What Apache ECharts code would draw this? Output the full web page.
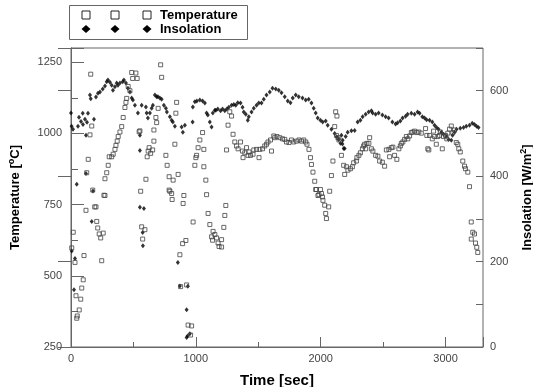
<!DOCTYPE html>
<html>
<head>
<meta charset="utf-8">
<script src="https://cdn.jsdelivr.net/npm/echarts@6/dist/echarts.min.js"></script>
<style>
  html, body { margin: 0; padding: 0; background: #fff; }
  #chart { width: 533px; height: 387px; }
</style>
</head>
<body>
<div id="chart"></div>
<script>
// Temperature readings (open squares, left axis)
const tempTime = [
  158, 718, 726, 486, 520, 494, 530, 458, 472, 446, 440, 432, 418, 406, 392, 378, 370, 360, 352, 338,
  326, 306, 298, 286, 272, 264, 166, 152, 138, 126, 174, 546, 552, 664, 686, 698, 846, 840, 680, 626,
  654, 618, 638, 610, 664, 760, 770, 832, 858, 818, 786, 600, 558, 786, 904, 1086, 1054, 1032, 1018, 1006,
  1000, 992, 1064, 1064, 1080, 272, 792, 806, 810, 898, 120, 190, 200, 206, 214, 226, 258, 238, 566, 592,
  574, 18, 6, 32, 104, 246, 98, 86, 40, 78, 66, 50, 46, 872, 920, 894, 978, 1098, 1112, 1138,
  1152, 1166, 1126, 1178, 878, 926, 938, 966, 958, 1240, 1232, 1224, 1186, 1206, 1134, 1206,
  1966, 1998, 1978, 2006, 2014, 2018, 2032, 2064, 2040, 2046, 2072,
  1272, 1286, 1258, 1298, 1246, 1312, 1326, 1358, 1338, 1374, 1406, 1392, 1378, 1418, 1438, 1458, 1426, 1464, 1486, 1506,
  1512, 1534, 1552, 1566, 1578, 1598, 1606, 1624, 1632, 1650, 1672, 1694, 1712, 1726, 1746, 1766, 1784, 1806, 1826, 1846,
  1864, 1880, 1890, 1906, 1918, 1926, 1938, 1952, 1960, 1986, 2086, 2098, 2112, 2120, 2130, 2126, 2138, 2146, 2166, 2184,
  2206, 2218, 2238, 2192, 2254, 2264, 2286, 2290, 2306, 2318, 2334, 2344, 2352, 2370, 2360, 2392, 2386, 2406, 2418, 2440,
  2458, 2472, 2494, 2512, 2526, 2546, 2552, 2566, 2578, 2592, 2610, 2626, 2638, 2646, 2658, 2672, 2686, 2698, 2712, 2726,
  2738, 2752, 2770, 2786, 2806, 2840, 2850, 2872, 2858, 2866, 2894, 2912, 2904, 2926, 2938, 2952, 2958, 2974, 2984, 3000,
  3010, 3018, 3032, 3046, 3058, 3072, 3086, 3098, 3106, 3118, 3138, 3152, 3160, 3178, 3192, 3206, 3218, 3232, 3206, 3240,
  3250, 3258
];
const tempC = [
  1208, 1241, 1197, 1214, 1212, 1193, 1193, 1165, 1150, 1123, 1109, 1091, 1056, 1024, 1005, 989, 973, 958, 944, 927,
  918, 918, 888, 862, 841, 783, 1026, 995, 909, 862, 801, 1006, 1009, 1012, 1038, 1088, 1109, 1071, 1056, 950,
  942, 938, 930, 918, 973, 923, 888, 962, 856, 836, 848, 839, 797, 801, 782, 785, 1003, 977, 950, 923,
  915, 888, 944, 883, 836, 782, 797, 789, 768, 754, 730, 742, 742, 691, 668, 647, 650, 633, 672, 662,
  629, 653, 598, 547, 571, 553, 486, 457, 430, 418, 380, 359, 351, 574, 624, 613, 689, 719, 680, 656,
  645, 633, 637, 615, 462, 468, 327, 324, 292, 747, 712, 670, 603, 601, 625, 627,
  803, 803, 782, 789, 777, 765, 748, 742, 719, 701, 797,
  1076, 1061, 1029, 997, 942, 970, 956, 970, 946, 938, 950, 932, 915, 923, 923, 927, 935, 942, 944, 915,
  944, 946, 956, 962, 970, 977, 938, 991, 985, 989, 985, 981, 979, 970, 968, 977, 970, 973, 977, 973,
  977, 970, 962, 944, 915, 891, 864, 832, 803, 785, 852, 903, 1024, 1076, 1061, 993, 985, 977, 923, 888,
  883, 871, 876, 856, 883, 897, 903, 915, 923, 932, 946, 956, 962, 965, 946, 985, 965, 946, 938, 923,
  920, 903, 899, 885, 942, 944, 918, 950, 952, 923, 909, 946, 956, 965, 970, 979, 989, 981, 991, 1003,
  1005, 1008, 1003, 1005, 1001, 1017, 993, 993, 946, 942, 981, 989, 1008, 962, 989, 993, 1005, 946, 989, 993,
  981, 1001, 1015, 1026, 1003, 1012, 968, 962, 946, 935, 903, 885, 876, 864, 813, 689, 653, 647, 629, 615,
  600, 582
];

// Insolation readings (filled diamonds, right axis)
const insTime = [
  0, 5, 16, 56, 64, 80, 94, 96, 112, 120, 136, 128, 184, 152, 158, 200, 216, 232, 254, 272,
  286, 296, 312, 326, 336, 352, 366, 376, 392, 414, 424, 440, 456, 472, 486, 496, 512, 536, 552, 552,
  566, 600, 606, 616, 632, 646, 656, 672, 686, 696, 712, 726, 744, 760, 768, 792, 806, 816, 832, 886,
  896, 912, 974, 976, 992, 1008, 1032, 1054, 1072, 1086, 1096, 1112, 1126, 1136, 1152,
  46, 120, 176, 552, 584, 166, 576, 574, 32, 6, 24, 856, 872, 936, 926, 952, 926, 934,
  1160, 1176, 1198, 1214, 1232, 1248, 1264, 1286, 1304, 1320, 1336, 1358, 1374, 1384, 1400, 1416, 1424, 1446, 1464, 1486,
  1504, 1526, 1544, 1566, 1592, 1614, 1640, 1664, 1686, 1712, 1736, 1758, 1776, 1800, 1824, 1854, 1880, 1904, 1926, 1944,
  1960, 1976, 1998, 2016, 2040, 2056, 2086, 2112, 2128, 2144, 2158, 2174, 2184, 2200, 2216, 2246, 2272, 2296,
  2166, 2176, 2192, 2318, 2336, 2360, 2384, 2406, 2416, 2440, 2464, 2494, 2520, 2544, 2574, 2600, 2616, 2638, 2656, 2680,
  2696, 2726, 2752, 2776, 2792, 2814, 2832, 2848, 2872, 2894, 2912, 2928, 2944, 2966, 2984, 3006, 3024, 3046, 3056, 3072,
  3088, 3118, 3144, 3166, 3192, 3214, 3232, 3248, 3264
];
const insWm2 = [
  548, 517, 510, 517, 538, 528, 547, 521, 533, 496, 547, 526, 533, 590, 581, 585, 594, 597, 604, 611,
  621, 625, 620, 613, 601, 609, 618, 613, 618, 621, 625, 618, 606, 597, 583, 578, 566, 548, 496, 460,
  566, 562, 548, 536, 548, 559, 566, 590, 586, 586, 583, 580, 566, 559, 550, 539, 531, 527, 517, 515,
  503, 519, 527, 562, 574, 576, 578, 576, 571, 548, 543, 527, 515, 548, 554,
  381, 406, 365, 327, 324, 294, 237, 268, 207, 225, 134, 198, 143, 142, 87, 31, 22, 26,
  554, 557, 553, 557, 553, 557, 561, 566, 568, 566, 572, 571, 561, 550, 545, 531, 539, 550, 559, 566,
  571, 571, 580, 590, 597, 606, 604, 601, 595, 586, 576, 572, 583, 590, 586, 583, 578, 580, 571, 559,
  548, 536, 531, 527, 529, 519, 510, 500, 492, 486, 477, 475, 465, 493, 503, 506, 507, 527,
  496, 484, 465, 531, 539, 545, 550, 553, 548, 545, 548, 543, 539, 536, 527, 522, 525, 529, 536, 540,
  545, 547, 545, 550, 547, 539, 536, 532, 531, 527, 519, 514, 510, 503, 498, 493, 486, 484, 496, 503,
  510, 512, 514, 517, 519, 524, 521, 517, 514
];

// axis ticks: min, max, major step, minor step
const timeTicks = [0, 3300, 1000, 500];
const tempTicks = [250, 1300, 250, 125];
const insTicks = [0, 700, 200, 100];

const axisGray = '#666';
const labelGray = '#444';

const chart = echarts.init(document.getElementById('chart'));

const majorLabel = (step) => (v) => (v % step === 0 ? String(v) : '');

chart.setOption({
  animation: false,
  backgroundColor: '#fff',
  textStyle: { fontFamily: 'Arial, "Liberation Sans", sans-serif' },
  grid: {
    left: 71, right: 50, top: 48, bottom: 40,
    containLabel: false, outerBoundsMode: 'none',
    show: true, borderColor: axisGray, borderWidth: 1
  },
  xAxis: [
    {
      type: 'value', min: timeTicks[0], max: timeTicks[1], interval: timeTicks[2],
      position: 'bottom',
      axisLine: { lineStyle: { color: axisGray } },
      axisTick: { inside: true, length: 10, lineStyle: { color: axisGray } },
      axisLabel: { color: labelGray, fontSize: 11, margin: 6, formatter: majorLabel(1000) },
      splitLine: { show: false },
      name: 'Time [sec]', nameLocation: 'middle', nameGap: 26,
      nameTextStyle: { color: '#000', fontSize: 15, fontWeight: 'bold' }
    },
    {
      type: 'value', min: timeTicks[0], max: timeTicks[1], interval: timeTicks[3],
      position: 'bottom',
      axisLine: { show: false },
      axisTick: { inside: true, length: 5, lineStyle: { color: axisGray } },
      axisLabel: { show: false },
      splitLine: { show: false }
    }
  ],
  yAxis: [
    {
      type: 'value', min: tempTicks[0], max: tempTicks[1], interval: tempTicks[2],
      position: 'left',
      axisLine: { show: true, lineStyle: { color: axisGray } },
      axisTick: { inside: true, length: 13, lineStyle: { color: axisGray } },
      axisLabel: { color: labelGray, fontSize: 11, margin: 9, formatter: majorLabel(250) },
      splitLine: { show: false },
      name: 'Temperature [{s|o}C]', nameLocation: 'middle', nameGap: 48, nameRotate: 90,
      nameTextStyle: {
        color: '#000', fontSize: 13, fontWeight: 'bold', lineHeight: 16,
        rich: { s: { fontSize: 9, fontWeight: 'bold', color: '#000', verticalAlign: 'top', lineHeight: 9 } }
      }
    },
    {
      type: 'value', min: insTicks[0], max: insTicks[1], interval: insTicks[2],
      position: 'right',
      axisLine: { show: true, lineStyle: { color: axisGray } },
      axisTick: { inside: true, length: 13, lineStyle: { color: axisGray } },
      axisLabel: { color: labelGray, fontSize: 11, margin: 7, formatter: majorLabel(200) },
      splitLine: { show: false },
      name: 'Insolation [W/m{s|2}]', nameLocation: 'middle', nameGap: 35, nameRotate: 90,
      nameTextStyle: {
        color: '#000', fontSize: 13, fontWeight: 'bold', lineHeight: 16,
        rich: { s: { fontSize: 9, fontWeight: 'bold', color: '#000', verticalAlign: 'top', lineHeight: 9 } }
      }
    },
    {
      type: 'value', min: tempTicks[0], max: tempTicks[1], interval: tempTicks[3],
      position: 'left',
      axisLine: { show: false },
      axisTick: { inside: true, length: 7, lineStyle: { color: axisGray } },
      axisLabel: { show: false },
      splitLine: { show: false }
    },
    {
      type: 'value', min: insTicks[0], max: insTicks[1], interval: insTicks[3],
      position: 'right',
      axisLine: { show: false },
      axisTick: { inside: true, length: 7, lineStyle: { color: axisGray } },
      axisLabel: { show: false },
      splitLine: { show: false }
    }
  ],
  series: [
    {
      name: 'Insolation', type: 'scatter', xAxisIndex: 0, yAxisIndex: 1,
      symbol: 'diamond', symbolSize: [4, 5],
      itemStyle: { color: '#000' },
      data: insTime.map((t, i) => [t, insWm2[i]])
    },
    {
      name: 'Temperature', type: 'scatter', xAxisIndex: 0, yAxisIndex: 0,
      symbol: 'rect', symbolSize: 4,
      itemStyle: { color: 'rgba(0,0,0,0)', borderColor: '#444', borderWidth: 1 },
      data: tempTime.map((t, i) => [t, tempC[i]])
    }
  ],
  graphic: [
    { type: 'rect', shape: { x: 69.5, y: 5.5, width: 178, height: 34 },
      style: { fill: '#fff', stroke: axisGray, lineWidth: 1 } },
    { type: 'rect', shape: { x: 82, y: 11, width: 8, height: 8 }, style: { fill: '#fff', stroke: '#222', lineWidth: 1 } },
    { type: 'rect', shape: { x: 111, y: 11, width: 8, height: 8 }, style: { fill: '#fff', stroke: '#222', lineWidth: 1 } },
    { type: 'rect', shape: { x: 143, y: 11, width: 8, height: 8 }, style: { fill: '#fff', stroke: '#222', lineWidth: 1 } },
    { type: 'polygon', shape: { points: [[86, 25], [90.5, 29], [86, 33], [81.5, 29]] }, style: { fill: '#000' } },
    { type: 'polygon', shape: { points: [[115, 25], [119.5, 29], [115, 33], [110.5, 29]] }, style: { fill: '#000' } },
    { type: 'polygon', shape: { points: [[147, 25], [151.5, 29], [147, 33], [142.5, 29]] }, style: { fill: '#000' } },
    { type: 'text', x: 160, y: 15, style: { text: 'Temperature', fill: '#000', font: 'bold 13px Arial', verticalAlign: 'middle' } },
    { type: 'text', x: 160, y: 29, style: { text: 'Insolation', fill: '#000', font: 'bold 13px Arial', verticalAlign: 'middle' } }
  ]
});
</script>
</body>
</html>
